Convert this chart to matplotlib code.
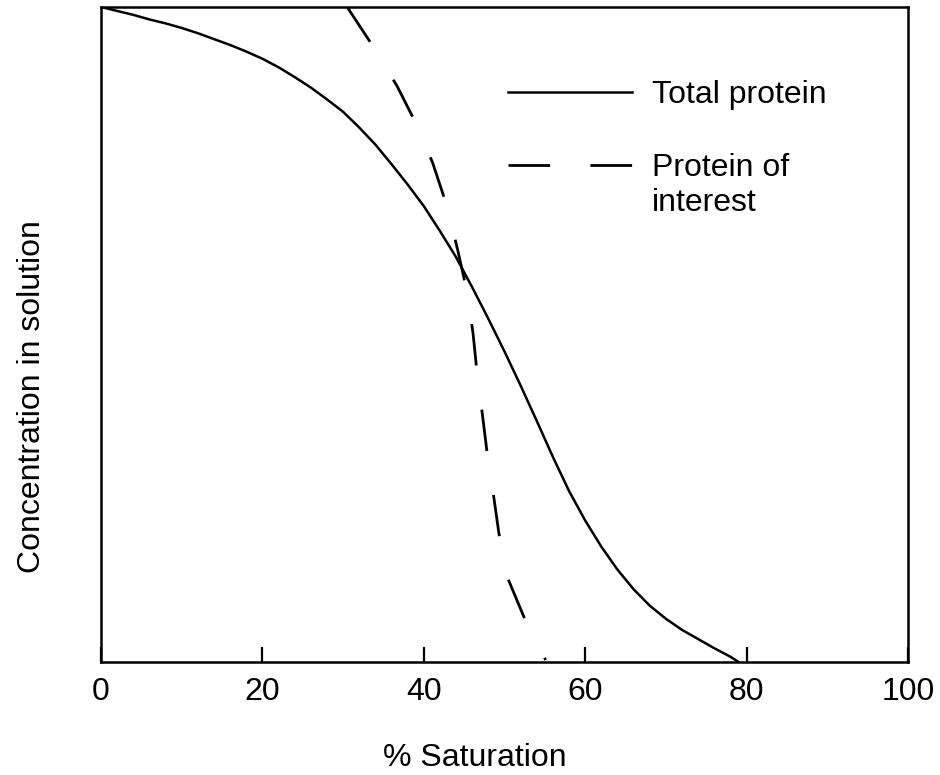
import matplotlib
matplotlib.use("Agg")
import matplotlib.pyplot as plt

plt.rcParams['font.family'] = ['Liberation Sans', 'DejaVu Sans']
plt.rcParams['lines.scale_dashes'] = False

# Data (% saturation vs relative concentration)
total_x = [0, 2, 4, 6, 8, 10, 12, 14, 16, 18, 20, 22, 24, 26, 28, 30, 32, 34, 36,
           38, 40, 42, 44, 46, 48, 50, 52, 54, 56, 58, 60, 62, 64, 66, 68, 70,
           72, 74, 76, 78, 79.0]
total_y = [1.000, 0.994, 0.988, 0.981, 0.975, 0.968, 0.960, 0.951, 0.942, 0.932,
           0.921, 0.908, 0.893, 0.877, 0.859, 0.840, 0.816, 0.790, 0.760, 0.729,
           0.696, 0.658, 0.618, 0.572, 0.524, 0.474, 0.422, 0.368, 0.313, 0.261,
           0.216, 0.176, 0.141, 0.111, 0.086, 0.066, 0.049, 0.035, 0.021, 0.008,
           0.0]

interest_x = [30.5, 33.6, 36.7, 39.0, 41.1, 42.9, 44.2, 45.4, 46.1, 46.6, 47.3,
              47.8, 48.6, 49.3, 50.4, 52.4, 55.1]
interest_y = [1.0, 0.942, 0.879, 0.823, 0.762, 0.695, 0.629, 0.563, 0.502, 0.441,
              0.374, 0.324, 0.258, 0.197, 0.128, 0.069, 0.003]

xticks = [0, 20, 40, 60, 80, 100]
labels = ["Total protein", "Protein of", "interest"]

W, H = 940, 775
fig = plt.figure(figsize=(9.4, 7.75), dpi=100)
ax = fig.add_axes([101 / W, (H - 662) / H, 807 / W, 655 / H])

ax.plot(total_x, total_y, color='black', lw=1.8, label=labels[0])
ax.plot(interest_x, interest_y, color='black', lw=2.0, dashes=(30, 32),
        label=labels[1])

ax.set_xlim(0, 100)
ax.set_ylim(0, 1)
ax.set_xticks(xticks)
ax.set_xticklabels([str(t) for t in xticks])
ax.set_yticks([])
ax.tick_params(axis='x', direction='in', length=11, width=1.6, labelsize=23, pad=10.5)
for s in ax.spines.values():
    s.set_linewidth(1.8)

ax.set_xlabel("% Saturation", fontsize=23)
ax.xaxis.set_label_coords((475 - 101) / 807, -0.124)
ax.set_ylabel("Concentration in solution", fontsize=23)
ax.yaxis.set_label_coords(-0.0665, (662 - 397) / 655)

leg = ax.legend(loc='upper left', bbox_to_anchor=(508 / W, (H - 80) / H),
                bbox_transform=fig.transFigure, frameon=False, fontsize=23,
                handlelength=3.88, handletextpad=0.63, borderpad=0,
                borderaxespad=0, labelspacing=1.34)
leg.get_lines()[1].set_dashes((30, 29))

# second line of the "Protein of interest" legend label
fig.text(652 / W, (H - 203) / H, labels[2], ha='left', va='center', fontsize=23)

fig.savefig("out.png", dpi=100)
